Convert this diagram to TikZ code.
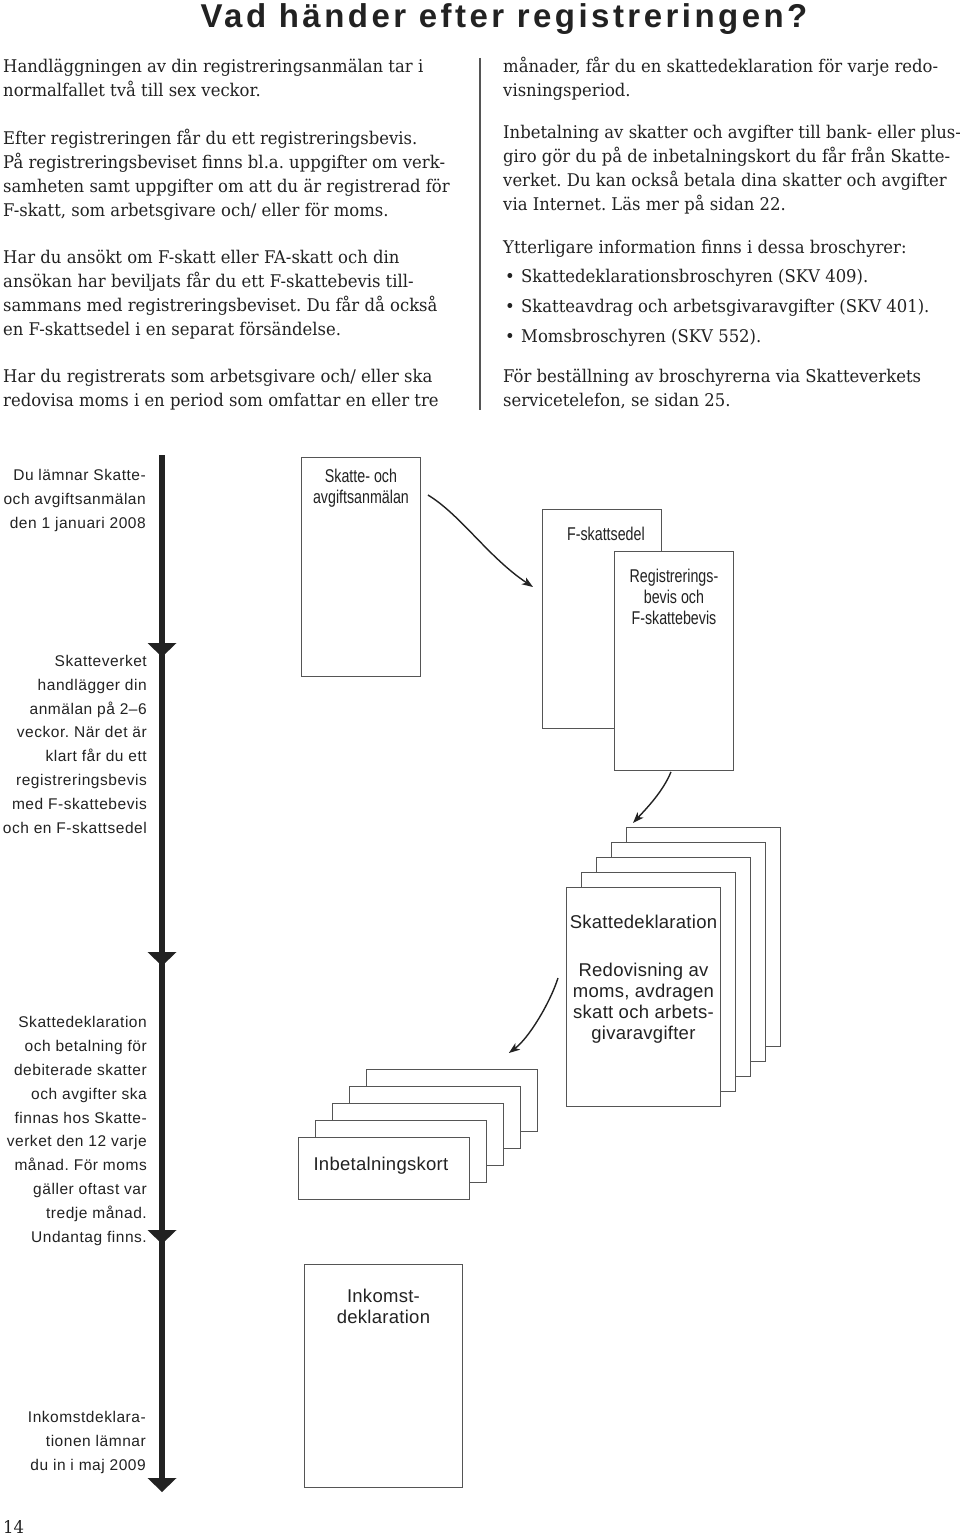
\documentclass[tikz,border=0pt]{standalone}
\usepackage{fontspec}
\setmainfont{DejaVu Serif}[FakeStretch=0.94]
\newfontfamily\sidefont{Liberation Sans}[LetterSpace=3.5]
\newfontfamily\sheetfont{Liberation Sans}[LetterSpace=1.5]
\newfontfamily\narrowfont{Liberation Sans}[FakeStretch=0.77]
\newfontfamily\titlefont{Liberation Sans}[LetterSpace=10.5]
\usepackage{tikz}
\usetikzlibrary{arrows, arrows.meta, positioning, calc}

\definecolor{ink}{HTML}{222222}
\definecolor{frame}{HTML}{555555}

\frenchspacing

\begin{document}
\begin{tikzpicture}[x=1pt, y=-1pt, >={Stealth[length=11pt, width=8pt, inset=3pt]},
		every node/.style={inner sep=0pt, text=ink},
		body/.style={font=\fontsize{17.5}{24}\selectfont, align=left, anchor=base west},
		side/.style={font=\sidefont\fontsize{15.5}{23.8}\selectfont, align=right, anchor=base east},
		sheet/.style={draw=frame, line width=0.9pt, fill=white, anchor=north west},
		sheetlabel/.style={font=\sheetfont\fontsize{18.5}{21}\selectfont, align=center, anchor=base},
		narrowlabel/.style={sheetlabel, font=\narrowfont\fontsize{18.5}{21}\selectfont},
		flow/.style={->, line width=1.4pt, draw=ink}]

	\fill[white] (0,0) rectangle (960,1536);
	\useasboundingbox (0,0) rectangle (960,1536);

	% heading and page text
	\node [anchor=base, font=\titlefont\bfseries\fontsize{33}{36}\selectfont] (title) at (504,28) {Vad händer efter registreringen?};

	\node [body] (l1) at (3,97) {Handläggningen av din registreringsanmälan tar i\\normalfallet två till sex veckor.};
	\node [body] (l2) at (3,216) {Efter registreringen får du ett registreringsbevis.\\På registreringsbeviset finns bl.a. uppgifter om verk-\\samheten samt uppgifter om att du är registrerad för\\F-skatt, som arbetsgivare och/ eller för moms.};
	\node [body] (l3) at (3,335) {Har du ansökt om F-skatt eller FA-skatt och din\\ansökan har beviljats får du ett F-skattebevis till-\\sammans med registreringsbeviset. Du får då också\\en F-skattsedel i en separat försändelse.};
	\node [body] (l4) at (3,406) {Har du registrerats som arbetsgivare och/ eller ska\\redovisa moms i en period som omfattar en eller tre};

	\draw [frame, line width=1.2pt] (480,58) -- (480,410);

	\node [body] (r1) at (503,97) {månader, får du en skattedeklaration för varje redo-\\visningsperiod.};
	\node [body] (r2) at (503,210) {Inbetalning av skatter och avgifter till bank- eller plus-\\giro gör du på de inbetalningskort du får från Skatte-\\verket. Du kan också betala dina skatter och avgifter\\via Internet. Läs mer på sidan 22.};
	\node [body] (r3) at (503,253) {Ytterligare information finns i dessa broschyrer:};
	\foreach \txt/\yy [count=\i] in {Skattedeklarationsbroschyren (SKV 409)./282, Skatteavdrag och arbetsgivaravgifter (SKV 401)./312, Momsbroschyren (SKV 552)./342}
	{
		\node [body] (dot\i) at (505,\yy) {•};
		\node [body] (item\i) at (521,\yy) {\txt};
	}
	\node [body] (r4) at (503,406) {För beställning av broschyrerna via Skatteverkets\\servicetelefon, se sidan 25.};

	\node [body] (page) at (3,1533) {14};

	% time line
	\coordinate (tl-top) at (162,455);
	\coordinate (tl-bot) at (162,1480);
	\draw [line width=5.5pt, ink] (tl-top) -- (tl-bot);
	\foreach \tip in {657,966,1244,1492}
		\fill [ink] (147.5,\tip-14) -- (176.5,\tip-14) -- (162,\tip) -- cycle;

	\node [side] (s1) at (146,528) {Du lämnar Skatte-\\och avgiftsanmälan\\den 1 januari 2008};
	\node [side] (s2) at (147,833) {Skatteverket\\handlägger din\\anmälan på 2–6\\veckor. När det är\\klart får du ett\\registreringsbevis\\med F-skattebevis\\och en F-skattsedel};
	\node [side] (s3) at (147,1242) {Skattedeklaration\\och betalning för\\debiterade skatter\\och avgifter ska\\finnas hos Skatte-\\verket den 12 varje\\månad. För moms\\gäller oftast var\\tredje månad.\\Undantag finns.};
	\node [side] (s4) at (146,1470) {Inkomstdeklara-\\tionen lämnar\\du in i maj 2009};

	% documents
	\node [sheet, minimum width=119pt, minimum height=219pt] (anm) at (301,457) {};
	\node [narrowlabel] (anm-t) at ($(anm.north)+(0,46)$) {Skatte- och\\avgiftsanmälan};

	\node [sheet, minimum width=119pt, minimum height=219pt] (fsed) at (542,509) {};
	\node [narrowlabel] (fsed-t) at ($(fsed.north)+(4,31)$) {F-skattsedel};

	\node [sheet, minimum width=119pt, minimum height=219pt] (reg) at (614,551) {};
	\node [narrowlabel] (reg-t) at ($(reg.north)+(0,73)$) {Registrerings-\\bevis och\\F-skattebevis};

	\foreach \i in {4,...,0}
		\node [sheet, minimum width=154pt, minimum height=219pt] (dekl\i) at (566+15*\i,887-15*\i) {};
	\node [sheetlabel] (dekl-t) at ($(dekl0.north)+(0,41)$) {Skattedeklaration};
	\node [sheetlabel] (dekl-s) at ($(dekl0.north)+(0,152)$) {Redovisning av\\moms, avdragen\\skatt och arbets-\\givaravgifter};

	\foreach \i in {4,...,0}
		\node [sheet, minimum width=171pt, minimum height=62pt] (ink\i) at (298+17*\i,1137-17*\i) {};
	\node [sheetlabel] (ink-t) at ($(ink0.north)+(-3,33)$) {Inbetalningskort};

	\node [sheet, minimum width=158pt, minimum height=223pt] (inko) at (304,1264) {};
	\node [sheetlabel] (inko-t) at ($(inko.north)+(0,59)$) {Inkomst-\\deklaration};

	% arrows between documents
	\coordinate (a1s) at ($(anm.north east)+(7,38)$);
	\coordinate (a1e) at ($(fsed.north west)+(-9,78)$);
	\draw [flow] (a1s) .. controls +(33,20) and +(-45,-30) .. (a1e);

	\coordinate (a2s) at ($(reg.south)+(-3,1)$);
	\coordinate (a2e) at ($(dekl4.north west)+(7,-4)$);
	\draw [flow] (a2s) .. controls +(-8,20) and +(12,-13) .. (a2e);

	\coordinate (a3s) at ($(dekl0.north west)+(-8,91)$);
	\coordinate (a3e) at ($(ink4.north east)+(-29,-16)$);
	\draw [flow] (a3s) .. controls +(-8,25) and +(20,-15) .. (a3e);

\end{tikzpicture}
\end{document}
